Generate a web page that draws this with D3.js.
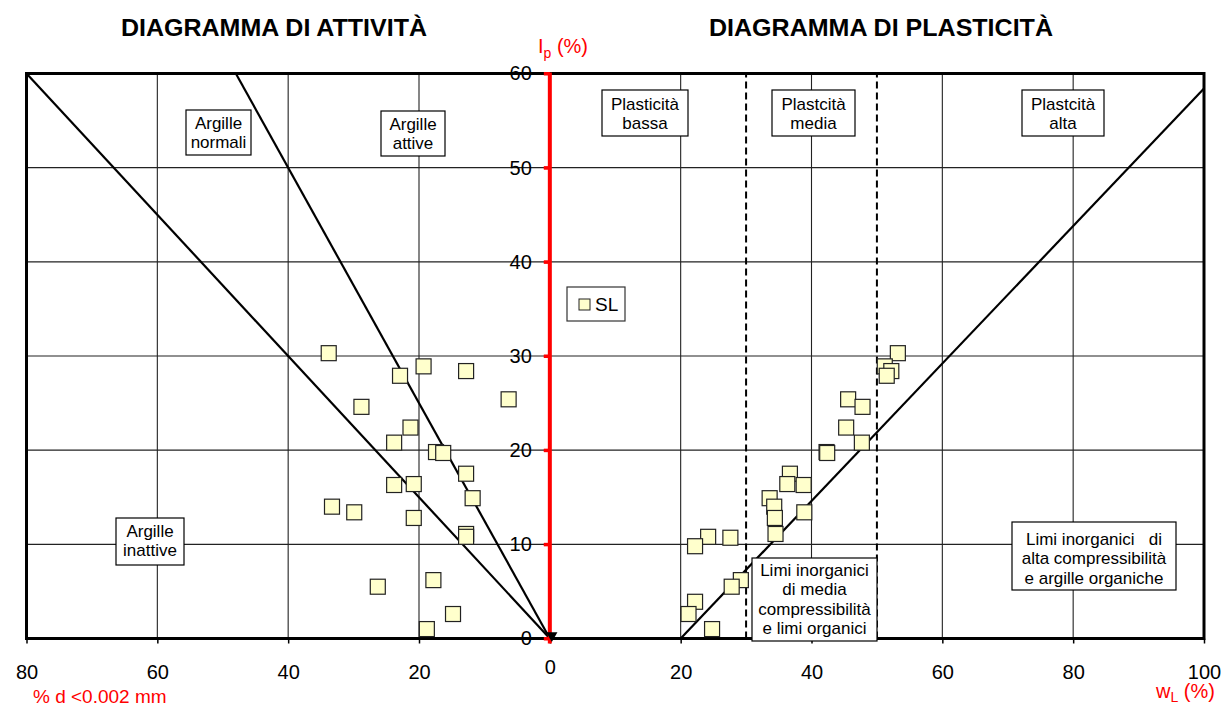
<!DOCTYPE html>
<html><head><meta charset="utf-8">
<script src="https://cdn.jsdelivr.net/npm/d3@7"></script>
<style>
html,body{margin:0;padding:0;background:#fff;}
svg{display:block;font-family:"Liberation Sans",Arial,sans-serif;}
</style></head><body>
<svg id="chart" width="1227" height="708"></svg>
<script>
// Soil samples: plasticity index Ip (%), liquid limit wL (%), clay fraction d < 0.002 mm (%)
const sampleIp   = [30.3, 28.9, 28.4, 27.9, 25.4, 24.6, 22.4, 20.8, 19.8, 19.7, 17.5, 16.4, 16.3, 14.9, 14.0, 13.4, 12.8, 11.1, 10.8, 10.7, 9.8, 6.2, 5.5, 3.9, 2.6, 1.0];
const sampleWL   = [53.2, 51.2, 52.2, 51.5, 45.6, 47.8, 45.3, 47.7, 42.3, 42.4, 36.7, 36.3, 38.8, 33.6, 34.3, 38.9, 34.4, 34.5, 24.2, 27.6, 22.2, 29.2, 27.8, 22.2, 21.2, 24.8];
const sampleClay = [33.8, 19.3, 12.8, 22.9, 6.3, 28.8, 21.3, 23.8, 17.4, 16.3, 12.8, 20.8, 23.8, 11.8, 33.3, 29.9, 20.8, 12.8, 12.8, null, null, 17.8, 26.3, null, 14.8, 18.8];

// Activity boundaries (Ip = A * clay) and Casagrande A-line (Ip = 0.73 (wL - 20))
const activityLimits = [0.75, 1.25];
const aLineSlope = 0.73, aLineStart = 20;
const plasticityLimits = [30, 50];

// Axis ticks
const xTickValues = [-80, -60, -40, -20, 0, 20, 40, 60, 80, 100];
const yTickValues = [0, 10, 20, 30, 40, 50, 60];
const xGrid = [-60, -40, -20, 20, 40, 60, 80];
const yGrid = [10, 20, 30, 40, 50];

const svg = d3.select("#chart");
const x = d3.scaleLinear().domain([-80, 100]).range([26.5, 1204]);
const y = d3.scaleLinear().domain([0, 60]).range([638.5, 73.5]);

// grid
svg.append("g").selectAll("line").data(xGrid).join("line")
  .attr("x1", d => x(d)).attr("x2", d => x(d)).attr("y1", y(0)).attr("y2", y(60))
  .attr("stroke", "#222").attr("stroke-width", 1.1);
svg.append("g").selectAll("line").data(yGrid).join("line")
  .attr("x1", x(-80)).attr("x2", x(100)).attr("y1", d => y(d)).attr("y2", d => y(d))
  .attr("stroke", "#222").attr("stroke-width", 1.1);

// x axis (left half reads clay fraction, right half liquid limit)
const xAxisG = svg.append("g").attr("transform", `translate(0,${y(0)})`)
  .call(d3.axisBottom(x).tickValues(xTickValues).tickSize(5).tickFormat(d => Math.abs(d)));
xAxisG.select(".domain").remove();
xAxisG.selectAll(".tick line").attr("stroke", "#000").attr("stroke-width", 1.5);
xAxisG.selectAll(".tick text").attr("y", d => d === 0 ? 35 : 40).attr("dy", 0)
  .attr("font-size", 20).attr("font-family", "Liberation Sans, Arial, sans-serif").attr("fill", "#000");

// dashed plasticity limits
svg.append("g").selectAll("line").data(plasticityLimits).join("line")
  .attr("x1", d => x(d)).attr("x2", d => x(d)).attr("y1", y(0)).attr("y2", y(60))
  .attr("stroke", "#000").attr("stroke-width", 2).attr("stroke-dasharray", "7,4");

// activity lines
const line = d3.line().x(d => x(d[0])).y(d => y(d[1]));
svg.append("g").selectAll("path").data(activityLimits).join("path")
  .attr("d", a => line([[0, 0], [-Math.min(80, 60 / a), Math.min(60, 80 * a)]]))
  .attr("fill", "none").attr("stroke", "#000").attr("stroke-width", 2.2);
// A-line
svg.append("path")
  .attr("d", line([[aLineStart, 0], [100, aLineSlope * (100 - aLineStart)]]))
  .attr("fill", "none").attr("stroke", "#000").attr("stroke-width", 2.2);

// y axis labels (drawn before the frame)
const yAxisG = svg.append("g").attr("transform", `translate(${x(0)},0)`)
  .call(d3.axisLeft(y).tickValues(yTickValues).tickSize(6).tickPadding(12));
yAxisG.select(".domain").remove();
yAxisG.selectAll(".tick line").attr("stroke", "#f00").attr("stroke-width", 3);
yAxisG.selectAll(".tick text").attr("font-size", 20)
  .attr("font-family", "Liberation Sans, Arial, sans-serif").attr("fill", "#000");

// frame
svg.append("rect").attr("x", x(-80)).attr("y", y(60))
  .attr("width", x(100) - x(-80)).attr("height", y(0) - y(60))
  .attr("fill", "none").attr("stroke", "#000").attr("stroke-width", 3);

// red Ip axis
svg.append("line").attr("x1", x(0)).attr("x2", x(0)).attr("y1", y(60) - 1).attr("y2", y(0) + 5)
  .attr("stroke", "#f00").attr("stroke-width", 4);
svg.append("g").selectAll("line").data(yTickValues).join("line")
  .attr("x1", x(0) - 6).attr("x2", x(0)).attr("y1", d => y(d)).attr("y2", d => y(d))
  .attr("stroke", "#f00").attr("stroke-width", 3);

// origin marker
svg.append("path").attr("d", d3.symbol(d3.symbolTriangle, 55)())
  .attr("transform", `translate(${x(0) + 2},${y(0) - 3}) rotate(180)`).attr("fill", "#000");

// samples
const mk = 15;
const samples = sampleIp.map((ip, i) => ({ ip, wl: sampleWL[i], clay: sampleClay[i] }));
const markers = svg.append("g");
markers.selectAll("rect.wl").data(samples).join("rect").attr("class", "wl")
  .attr("x", d => x(d.wl) - mk / 2).attr("y", d => y(d.ip) - mk / 2)
  .attr("width", mk).attr("height", mk)
  .attr("fill", "#ffffcc").attr("stroke", "#222").attr("stroke-width", 1.2);
markers.selectAll("rect.clay").data(samples.filter(d => d.clay != null)).join("rect").attr("class", "clay")
  .attr("x", d => x(-d.clay) - mk / 2).attr("y", d => y(d.ip) - mk / 2)
  .attr("width", mk).attr("height", mk)
  .attr("fill", "#ffffcc").attr("stroke", "#222").attr("stroke-width", 1.2);

// annotation boxes
const boxes = [
  { x0: 186, y0: 110, x1: 251, y1: 155, lines: ["Argille", "normali"], base: 129 },
  { x0: 381, y0: 111, x1: 445, y1: 156, lines: ["Argille", "attive"], base: 130 },
  { x0: 116, y0: 518, x1: 184, y1: 565, lines: ["Argille", "inattive"], base: 537 },
  { x0: 602, y0: 90,  x1: 688, y1: 136, lines: ["Plasticità", "bassa"], base: 110 },
  { x0: 772, y0: 90,  x1: 855, y1: 136, lines: ["Plastcità", "media"], base: 110 },
  { x0: 1022, y0: 90, x1: 1104, y1: 136, lines: ["Plastcità", "alta"], base: 110 },
  { x0: 752, y0: 558, x1: 877, y1: 641, lines: ["Limi inorganici", "di media", "compressibilità", "e limi organici"], base: 576 },
  { x0: 1012, y0: 522, x1: 1176, y1: 590, lines: ["Limi inorganici   di", "alta compressibilità", "e argille organiche"], base: 545 }
];
const bg = svg.append("g").selectAll("g").data(boxes).join("g");
bg.append("rect").attr("x", d => d.x0).attr("y", d => d.y0)
  .attr("width", d => d.x1 - d.x0).attr("height", d => d.y1 - d.y0)
  .attr("fill", "#fff").attr("stroke", "#000").attr("stroke-width", 1.2);
bg.each(function (d) {
  const t = d3.select(this).append("text").attr("font-size", 17).attr("fill", "#000")
    .attr("text-anchor", "middle").style("white-space", "pre");
  d.lines.forEach((s, i) => t.append("tspan").attr("x", (d.x0 + d.x1) / 2).attr("y", d.base + i * 19.4).text(s));
});

// legend
const lg = svg.append("g");
lg.append("rect").attr("x", 567).attr("y", 287).attr("width", 58).attr("height", 34)
  .attr("fill", "#fff").attr("stroke", "#333").attr("stroke-width", 1.2);
lg.append("rect").attr("x", 579).attr("y", 299).attr("width", 11).attr("height", 11)
  .attr("fill", "#ffffcc").attr("stroke", "#222").attr("stroke-width", 1);
lg.append("text").attr("x", 595).attr("y", 311).attr("font-size", 19).text("SL");

// titles
svg.append("text").attr("x", 121).attr("y", 36).attr("font-size", 24).attr("font-weight", "bold")
  .attr("textLength", 306).attr("lengthAdjust", "spacingAndGlyphs").text("DIAGRAMMA DI ATTIVITÀ");
svg.append("text").attr("x", 709).attr("y", 36).attr("font-size", 24).attr("font-weight", "bold")
  .attr("textLength", 344).attr("lengthAdjust", "spacingAndGlyphs").text("DIAGRAMMA DI PLASTICITÀ");

// axis titles
const ipT = svg.append("text").attr("x", 538).attr("y", 53).attr("font-size", 20).attr("fill", "#f00");
ipT.append("tspan").text("I");
ipT.append("tspan").attr("font-size", 14).attr("dy", 5).text("p");
ipT.append("tspan").attr("dy", -5).text(" (%)");

svg.append("text").attr("x", 33).attr("y", 703).attr("font-size", 19).attr("fill", "#f00").text("% d <0.002 mm");

const wlT = svg.append("text").attr("x", 1156).attr("y", 698).attr("font-size", 20).attr("fill", "#f00");
wlT.append("tspan").text("w");
wlT.append("tspan").attr("font-size", 14).attr("dy", 4).text("L");
wlT.append("tspan").attr("dy", -4).text(" (%)");
</script>
</body></html>
